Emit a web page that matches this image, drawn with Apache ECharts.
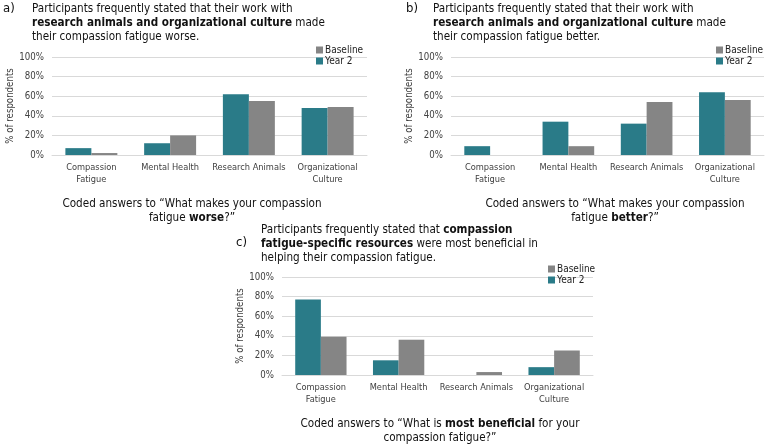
<!DOCTYPE html>
<html>
<head>
<meta charset="utf-8">
<script src="https://cdn.jsdelivr.net/npm/echarts@6/dist/echarts.min.js"></script>
<style>
  html, body { margin: 0; padding: 0; background: #fff; }
  #main { width: 767px; height: 447px; }
</style>
</head>
<body>
<div id="main"></div>
<script>
// categories shared by the three panels
var categories = ['Compassion\nFatigue', 'Mental Health', 'Research Animals', 'Organizational\nCulture'];
var legendNames = ['Baseline', 'Year 2'];

// a) what makes it worse
var worseYear2 = [7, 12, 62, 48];
var worseBaseline = [2, 20, 55, 49];
// b) what makes it better
var betterYear2 = [9, 34, 32, 64];
var betterBaseline = [0, 9, 54, 56];
// c) what is most beneficial
var beneficialYear2 = [77, 15, 0, 8];
var beneficialBaseline = [39, 36, 3, 25];

var FONT = "'DejaVu Sans Condensed', 'Liberation Sans', sans-serif";
var TEAL = '#2a7b88';
var GREY = '#858585';
var TXT = 11.6;

var chart = echarts.init(document.getElementById('main'), null, { renderer: 'canvas' });

var grids = [
  { left: 52, top: 57, width: 315, height: 98 },
  { left: 451, top: 57, width: 313, height: 98 },
  { left: 282, top: 277, width: 311, height: 98 }
];

function xAxis(i) {
  return {
    type: 'category', gridIndex: i, data: categories,
    axisTick: { show: false },
    axisLine: { lineStyle: { color: '#d9d9d9' } },
    axisLabel: { interval: 0, color: '#404040', fontSize: 9.2, fontFamily: FONT, lineHeight: 12, margin: 7 }
  };
}
function yAxis(i) {
  return {
    type: 'value', gridIndex: i, min: 0, max: 100, interval: 20,
    name: '% of respondents', nameLocation: 'middle', nameGap: 31,
    nameTextStyle: { color: '#404040', fontSize: 9.6, fontFamily: FONT },
    axisLabel: { formatter: '{value}%', color: '#404040', fontSize: 9.6, fontFamily: FONT, margin: 8 },
    splitLine: { lineStyle: { color: '#d9d9d9' } },
    axisLine: { show: false }, axisTick: { show: false }
  };
}
function bars(i, y2, base) {
  return [
    { name: 'Year 2', type: 'bar', xAxisIndex: i, yAxisIndex: i, data: y2, itemStyle: { color: TEAL }, barGap: '0%', barCategoryGap: '34%' },
    { name: 'Baseline', type: 'bar', xAxisIndex: i, yAxisIndex: i, data: base, itemStyle: { color: GREY }, barGap: '0%', barCategoryGap: '34%' }
  ];
}
function legend(left, top) {
  return {
    data: legendNames, orient: 'vertical', left: left, top: top,
    padding: 0, itemWidth: 7, itemHeight: 7, itemGap: 1, icon: 'rect', selectedMode: false,
    textStyle: { fontSize: 10, fontFamily: FONT, color: '#222', padding: [0, 0, 0, -3] }
  };
}

var rich = { b: { fontWeight: 'bold', fontSize: TXT, fontFamily: FONT, lineHeight: 14, fill: '#111' } };
function text(x, y, str, align) {
  return {
    type: 'text', x: x, y: y,
    style: {
      text: str, fill: '#111', fontSize: TXT, fontFamily: FONT, lineHeight: 14,
      align: align || 'left', verticalAlign: 'top', rich: rich
    }
  };
}

var option = {
  backgroundColor: '#ffffff',
  textStyle: { fontFamily: FONT },
  grid: grids,
  xAxis: [xAxis(0), xAxis(1), xAxis(2)],
  yAxis: [yAxis(0), yAxis(1), yAxis(2)],
  legend: [legend(316, 45), legend(716, 45), legend(548, 264)],
  series: [].concat(
    bars(0, worseYear2, worseBaseline),
    bars(1, betterYear2, betterBaseline),
    bars(2, beneficialYear2, beneficialBaseline)
  ),
  graphic: [
    { type: 'text', x: 3, y: 2, style: { text: 'a)', fill: '#111', fontSize: 13, fontFamily: FONT } },
    text(32, 2, 'Participants frequently stated that their work with\n{b|research animals and organizational culture} made\ntheir compassion fatigue worse.'),
    { type: 'text', x: 406, y: 2, style: { text: 'b)', fill: '#111', fontSize: 13, fontFamily: FONT } },
    text(433, 2, 'Participants frequently stated that their work with\n{b|research animals and organizational culture} made\ntheir compassion fatigue better.'),
    { type: 'text', x: 236, y: 236, style: { text: 'c)', fill: '#111', fontSize: 13, fontFamily: FONT } },
    text(261, 223, 'Participants frequently stated that {b|compassion}\n{b|fatigue-specific resources} were most beneficial in\nhelping their compassion fatigue.'),
    text(192, 197, 'Coded answers to \u201cWhat makes your compassion\nfatigue {b|worse}?\u201d', 'center'),
    text(615, 197, 'Coded answers to \u201cWhat makes your compassion\nfatigue {b|better}?\u201d', 'center'),
    text(440, 417, 'Coded answers to \u201cWhat is {b|most beneficial} for your\ncompassion fatigue?\u201d', 'center')
  ]
};

chart.setOption(option);
</script>
</body>
</html>
